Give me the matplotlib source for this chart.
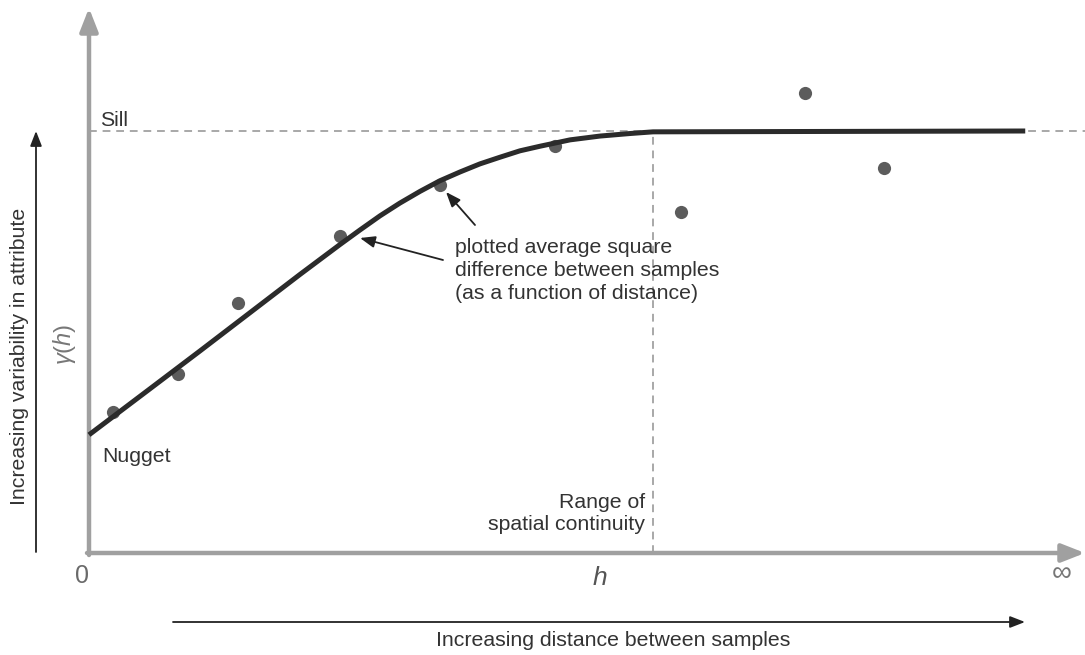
import matplotlib.pyplot as plt
import numpy as np

plt.rcParams['font.family'] = ['Liberation Sans', 'DejaVu Sans']
plt.rcParams['mathtext.fontset'] = 'custom'
plt.rcParams['mathtext.rm'] = 'Liberation Sans'
plt.rcParams['mathtext.it'] = 'Liberation Sans:italic'

# model curve (lag distance, semivariance)
curve_h = [0.0, 1.08, 1.97, 2.85, 3.74, 4.10, 4.45, 4.80, 5.16, 5.51, 5.87, 6.22, 6.58,
           6.93, 7.29, 7.64, 8.00, 8.53, 9.06, 9.59, 10.0, 16.6]
curve_g = [2.80, 3.89, 4.79, 5.69, 6.60, 6.96, 7.31, 7.65, 7.99, 8.29, 8.57, 8.82, 9.03,
           9.22, 9.38, 9.53, 9.64, 9.79, 9.88, 9.94, 9.98, 10.0]

# experimental points
pts_h = [0.43, 1.58, 2.64, 4.45, 6.22, 8.26, 10.5, 12.7, 14.1]
pts_g = [3.34, 4.24, 5.92, 7.51, 8.72, 9.64, 8.08, 10.9, 9.12]

sill = 10.0
range_a = 10.0

W, H = 1085, 655
fig = plt.figure(figsize=(W / 100, H / 100), dpi=100)
ax = fig.add_axes([0, 0, 1, 1])
# origin of the plot sits at pixel (89, 553)
sx, sy = 56.4, 42.2
ax.set_xlim(-89 / sx, (W - 89) / sx)
ax.set_ylim(-(H - 553) / sy, 553 / sy)
ax.axis('off')


def P(x, y):
    # pixel position -> figure fraction (for labels and decorations)
    return (x / W, 1 - y / H)


grey = '#a0a0a0'
dark = '#2b2b2b'
txt = '#333333'
big_head = '-|>,head_length=1.4,head_width=0.55'
small_head = '-|>,head_length=0.9,head_width=0.35'

# grey axes with arrow heads
ax.annotate('', xy=P(89, 8), xytext=P(89, 555), xycoords=fig.transFigure,
            arrowprops=dict(arrowstyle=big_head, color=grey, lw=3.2, shrinkA=0, shrinkB=0))
ax.annotate('', xy=P(1085, 553), xytext=P(87, 553), xycoords=fig.transFigure,
            arrowprops=dict(arrowstyle=big_head, color=grey, lw=3.2, shrinkA=0, shrinkB=0))

# sill and range lines
ax.plot([0, (W - 89) / sx], [sill, sill], ls=(0, (4, 3)), color='#a8a8a8', lw=1.4, zorder=1)
ax.plot([range_a, range_a], [0, sill], ls=(0, (4, 3)), color='#a8a8a8', lw=1.4, zorder=1)

# model + points
ax.plot(curve_h, curve_g, color=dark, lw=3.6, solid_capstyle='butt', solid_joinstyle='round', zorder=3)
ax.plot(pts_h, pts_g, 'o', color='#5c5c5c', ms=9.5, mec='none', zorder=2)

fs = 15.3
fig.text(*P(100, 120), 'Sill', fontsize=fs, color=txt, va='center')
fig.text(*P(102, 456), 'Nugget', fontsize=fs, color=txt, va='center')
fig.text(*P(82, 576), '0', fontsize=18, color='#6a6a6a', ha='center', va='center')
fig.text(*P(600, 578), '$h$', fontsize=19, color='#555555', ha='center', va='center')
fig.text(*P(1062, 574), '∞', fontsize=20, color='#777777', ha='center', va='center')
fig.text(*P(645, 503), 'Range of', fontsize=fs, color=txt, ha='right', va='center')
fig.text(*P(645, 525), 'spatial continuity', fontsize=fs, color=txt, ha='right', va='center')
fig.text(*P(455, 238), 'plotted average square\ndifference between samples\n(as a function of distance)',
         fontsize=fs, color=txt, ha='left', va='top', linespacing=1.27)
fig.text(*P(613, 640), 'Increasing distance between samples', fontsize=fs, color=txt,
         ha='center', va='center')
fig.text(*P(20, 356), 'Increasing variability in attribute', fontsize=fs, color=txt,
         ha='center', va='center', rotation=90)
fig.text(*P(64, 344), r'$\gamma(h)$', fontsize=17, color='#777777', ha='center', va='center',
         rotation=90)

# black direction arrows
ax.annotate('', xy=P(1025, 622), xytext=P(173, 622), xycoords=fig.transFigure,
            arrowprops=dict(arrowstyle=small_head, color='#222222', lw=1.3, shrinkA=0, shrinkB=0))
ax.annotate('', xy=P(36, 131), xytext=P(36, 552), xycoords=fig.transFigure,
            arrowprops=dict(arrowstyle=small_head, color='#222222', lw=1.3, shrinkA=0, shrinkB=0))

# pointer arrows to the curve and a point
ax.annotate('', xy=P(360, 238), xytext=P(443, 260), xycoords=fig.transFigure,
            arrowprops=dict(arrowstyle=small_head, color='#222222', lw=1.3, shrinkA=0, shrinkB=0))
ax.annotate('', xy=P(446, 192), xytext=P(475, 225), xycoords=fig.transFigure,
            arrowprops=dict(arrowstyle=small_head, color='#222222', lw=1.3, shrinkA=0, shrinkB=0))

fig.savefig('out.png', dpi=100)
